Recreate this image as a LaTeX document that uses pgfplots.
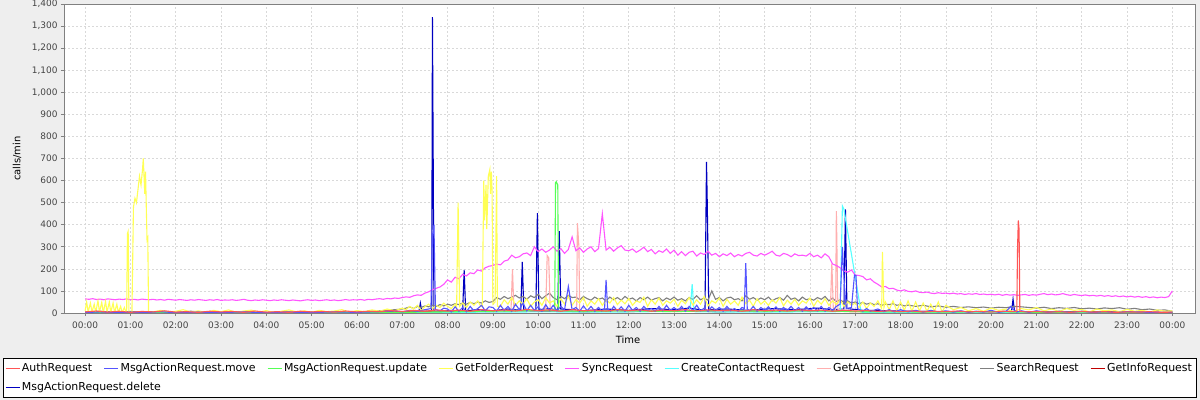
\documentclass[border=0pt]{standalone}
\usepackage{pgfplots}
\pgfplotsset{compat=1.18}
\usepackage{fontspec}
\setmainfont{DejaVu Sans}

\definecolor{bg}{HTML}{EEEEEE}
\definecolor{tickgray}{HTML}{444444}
\definecolor{cAuth}{HTML}{FF5555}
\definecolor{cMove}{HTML}{5555FF}
\definecolor{cUpdate}{HTML}{55FF55}
\definecolor{cFolder}{HTML}{FFFF55}
\definecolor{cSync}{HTML}{FF55FF}
\definecolor{cContact}{HTML}{55FFFF}
\definecolor{cAppt}{HTML}{FFAFAF}
\definecolor{cSearch}{HTML}{808080}
\definecolor{cInfo}{HTML}{C00000}
\definecolor{cDelete}{HTML}{0000C0}

\begin{document}
\begin{tikzpicture}
\useasboundingbox (0,0) rectangle (1200bp,400bp);
\fill[bg] (0,0) rectangle (1200bp,400bp);
\begin{axis}[
    at={(64bp,87bp)}, anchor=south west,
    scale only axis,
    width=1131bp, height=309bp,
    xmin=-28, xmax=1470,
    ymin=0, ymax=1400,
    axis background/.style={fill=white},
    axis line style={draw=gray, line width=0.6bp},
    xtick={0,60,...,1440},
    xticklabels={00:00,01:00,02:00,03:00,04:00,05:00,06:00,07:00,08:00,09:00,10:00,11:00,12:00,13:00,14:00,15:00,16:00,17:00,18:00,19:00,20:00,21:00,22:00,23:00,00:00},
    ytick={0,100,...,1400},
    xtick pos=bottom, ytick pos=left,
    tick align=outside, major tick length=3bp,
    tick style={draw=gray, line width=0.6bp},
    grid=major,
    major grid style={draw=black!15, dash pattern=on 2bp off 2bp, line width=0.6bp},
    /pgf/number format/assume math mode=true,
    /pgf/number format/1000 sep={,},
    ticklabel style={font=\fontsize{9}{10}\selectfont, text=tickgray},
    xticklabel style={yshift=-2bp},
    xlabel={Time}, ylabel={calls/min},
    label style={font=\fontsize{11}{13}\selectfont, text=tickgray},
    every axis x label/.style={at={(axis description cs:0.4987,-0.0874)}, anchor=center},
    every axis y label/.style={at={(axis description cs:-0.0416,0.5)}, rotate=90, anchor=center},
    legend columns=9,
    legend image code/.code={\draw[#1] (0bp,0bp) -- (14bp,0bp);},
    legend style={at={(axis description cs:0.4735,-0.1456)}, anchor=north,
        draw=black, line width=0.8bp, fill=white,
        font=\fontsize{11}{13}\selectfont,
        inner xsep=2bp, inner ysep=4bp, row sep=7bp,
        nodes={inner xsep=2bp, inner ysep=1bp},
        /tikz/every even column/.append style={column sep=9.5bp},
        legend cell align=left},
    every axis plot/.append style={line width=1.1bp},
]
% drawing order: last series first, AuthRequest on top
\addplot[cDelete, forget plot] coordinates {
(0,0)(30,2)(60,0)(90,1)(120,0)(180,2)(240,0)(300,1)(360,0)(400,3)(430,5)(442,4)(444,45)(446,5)(455,8)(459,10)(460,1340)(461,700)(462,8)(470,6)(485,12)(500,8)(502,195)(504,10)(520,15)(540,10)(560,18)(577,12)(579,231)(581,15)(590,10)(597,12)(599,452)(601,15)(615,20)(626,12)(628,371)(630,18)(645,15)(660,10)(690,18)(720,12)(750,20)(780,15)(800,22)(821,12)(823,685)(824,500)(826,15)(850,18)(880,12)(910,20)(940,15)(970,22)(990,15)(1005,18)(1007,470)(1009,20)(1030,12)(1060,10)(1090,8)(1130,6)(1170,5)(1210,6)(1227,8)(1229,63)(1231,6)(1260,4)(1320,5)(1380,3)(1440,2)
};
\addplot[cInfo, forget plot] coordinates {
(0,2)(30,5)(60,3)(90,6)(120,2)(150,4)(180,3)(210,5)(240,2)(270,4)(300,3)(330,5)(360,2)(390,4)(420,6)(450,8)(480,5)(510,9)(540,6)(570,10)(600,7)(630,9)(660,5)(690,8)(720,6)(750,10)(780,7)(810,9)(840,5)(870,8)(900,6)(930,9)(960,7)(990,10)(1020,6)(1050,8)(1080,5)(1110,7)(1140,4)(1170,6)(1200,3)(1230,5)(1260,3)(1290,6)(1320,4)(1350,5)(1380,3)(1410,4)(1440,2)
};
\addplot[cSearch, forget plot] coordinates {
(0,4)(20,8)(40,3)(60,7)(80,2)(100,6)(120,3)(140,8)(160,2)(180,5)(200,3)(220,7)(240,2)(260,6)(280,3)(300,5)(320,2)(340,6)(360,4)(380,8)(400,12)(420,18)
(425,22)(430,28)(435,20)(440,30)(445,25)(450,32)(455,28)(460,35)(465,30)(470,38)(475,32)(480,40)(485,35)(490,42)(495,38)(500,45)(505,40)(510,48)(515,42)(520,50)(525,45)(530,55)(535,48)(540,52)(545,70)(550,62)(555,75)(560,65)(565,72)(570,80)(575,68)(580,75)(585,62)(590,78)(595,70)(600,85)(605,65)(610,78)(615,90)(620,70)(625,60)(630,75)(635,65)(640,80)(645,70)(650,72)(655,60)(660,75)(665,65)(670,58)(675,72)(680,62)(685,68)(690,55)(695,72)(700,60)(705,70)(710,58)(715,75)(720,62)(725,68)(730,55)(735,70)(740,60)(745,72)(750,58)(755,65)(760,70)(765,55)(770,68)(775,60)(780,72)(785,58)(790,65)(795,55)(800,70)(805,62)(810,78)(815,60)(820,68)(825,58)(830,100)(835,62)(840,70)(845,55)(850,68)(855,72)(860,60)(865,65)(870,55)(875,78)(880,62)(885,70)(890,58)(895,68)(900,60)(905,72)(910,55)(915,65)(920,70)(925,58)(930,80)(935,62)(940,68)(945,55)(950,72)(955,60)(960,65)(965,58)(970,70)(975,62)(980,75)(985,55)(990,68)(995,52)(1000,60)(1005,48)(1010,55)(1015,45)(1020,50)(1025,42)(1030,48)(1035,40)(1040,45)(1045,38)(1050,42)(1055,35)(1060,40)(1065,38)(1070,42)(1075,35)(1080,38)(1085,32)(1090,36)
(1100,30)(1110,35)(1120,28)(1130,32)(1140,26)(1150,30)(1160,25)(1170,28)(1180,24)(1190,27)(1200,22)(1210,26)(1220,24)(1230,30)(1240,28)(1250,25)(1260,22)(1270,26)(1280,20)(1290,24)(1300,21)(1310,25)(1320,19)(1330,22)(1340,18)(1350,23)(1360,20)(1370,24)(1380,17)(1390,21)(1400,15)(1410,18)(1420,12)(1430,14)(1440,8)
};
\addplot[cAppt, forget plot] coordinates {
(0,1)(120,2)(240,1)(360,2)(480,4)(540,6)(564,5)(566,199)(568,8)(600,10)(610,15)(612,260)(614,250)(616,15)(635,10)(651,10)(652,407)(654,300)(655,10)(700,8)(800,10)(900,8)(987,10)(989,225)(991,15)(994,12)(995,462)(997,15)(1050,6)(1150,4)(1250,3)(1350,2)(1440,1)
};
\addplot[cContact, forget plot] coordinates {
(0,0)(120,1)(240,0)(360,1)(480,3)(600,5)(700,4)(800,8)(802,40)(804,131)(806,30)(808,5)(900,4)(1000,6)(1003,485)(1005,470)(1027,20)(1029,3)(1100,2)(1200,1)(1300,2)(1440,0)
};
\addplot[cSync, forget plot] coordinates {
(0,64)(5,62)(10,65)(15,61)(20,63)(25,60)(30,64)(35,62)(40,60)(45,63)(50,61)(55,64)(60,60)(65,62)(70,59)(75,63)(80,61)(85,60)(90,62)(95,59)(100,61)(105,58)(110,62)(115,60)(120,58)(125,61)(130,59)(135,57)(140,60)(145,58)(150,61)(155,59)(160,57)(165,60)(170,58)(175,61)(180,57)(185,59)(190,58)(195,60)(200,57)(205,59)(210,62)(215,58)(220,56)(225,59)(230,57)(235,60)(240,58)(245,56)(250,59)(255,57)(260,60)(265,58)(270,56)(275,59)(280,57)(285,55)(290,58)(295,60)(300,57)(305,59)(310,56)(315,58)(320,60)(325,57)(330,59)(335,56)(340,58)(345,61)(350,58)(355,60)(360,59)
(365,61)(370,58)(375,62)(380,60)(385,63)(390,65)(395,62)(400,66)(405,64)(410,68)(415,66)(420,70)
(425,73)(430,71)(435,78)(440,82)(445,80)(450,90)(455,96)(460,105)(465,112)(470,118)(475,130)(480,150)
(485,140)(490,162)(495,155)(500,175)(505,168)(510,182)(515,178)(520,195)(525,190)(530,205)(535,212)(540,215)
(545,222)(550,218)(555,235)(560,240)(565,262)(570,250)(575,255)(580,268)(585,272)(590,260)(595,300)(600,278)
(605,290)(610,275)(615,285)(620,300)(625,280)(630,292)(635,270)(640,288)(645,345)(650,282)(655,295)(660,275)
(665,290)(670,300)(675,278)(680,292)(685,450)(690,285)(695,298)(700,280)(705,295)(710,305)(715,285)(720,282)
(725,290)(730,275)(735,285)(740,298)(745,278)(750,288)(755,268)(760,282)(765,275)(770,290)(775,270)(780,285)
(785,262)(790,278)(795,260)(800,275)(805,280)(810,258)(815,272)(820,265)(825,280)(830,262)(835,270)(840,255)
(845,268)(850,260)(855,272)(860,255)(865,265)(870,258)(875,270)(880,275)(885,262)(890,258)(895,270)(900,262)
(905,270)(910,280)(915,262)(920,258)(925,270)(930,265)(935,255)(940,268)(945,260)(950,262)(955,258)(960,270)
(965,255)(970,262)(975,250)(980,268)(985,255)(990,222)(995,215)(1000,205)(1005,190)(1010,185)(1015,195)(1020,172)
(1025,170)(1030,165)(1035,150)(1040,155)(1045,140)(1050,130)(1055,118)(1060,120)(1065,110)(1070,112)(1075,104)(1080,100)
(1085,105)(1090,98)(1095,96)(1100,100)(1105,94)(1110,92)(1115,95)(1120,90)(1125,88)(1130,92)(1135,89)(1140,90)
(1145,87)(1150,90)(1155,86)(1160,88)(1165,84)(1170,87)(1175,85)(1180,88)(1185,84)(1190,86)(1195,83)(1200,85)
(1205,82)(1210,85)(1215,80)(1220,84)(1225,81)(1230,83)(1235,80)(1240,82)(1245,84)(1250,80)(1255,83)(1260,81)
(1265,85)(1270,88)(1275,83)(1280,86)(1285,82)(1290,84)(1295,88)(1300,83)(1305,80)(1310,84)(1315,81)(1320,79)
(1325,82)(1330,78)(1335,80)(1340,77)(1345,80)(1350,76)(1355,79)(1360,75)(1365,78)(1370,74)(1375,77)(1380,73)
(1385,76)(1390,72)(1395,75)(1400,71)(1405,74)(1410,70)(1415,73)(1420,69)(1425,72)(1430,70)(1435,74)(1440,100)
};
\addplot[cFolder, forget plot] coordinates {
(0,10)(2,50)(4,5)(7,45)(9,5)(12,40)(14,3)(17,55)(19,5)(22,48)(24,2)(27,52)(29,4)(32,50)(34,3)(37,45)(39,2)(42,40)(44,3)(47,30)(49,2)(52,25)(54,3)(55,5)(56,360)(57,370)(58,5)(60,0)(62,5)(64,480)(66,520)(68,500)(70,560)(72,620)(74,580)(76,650)(77,700)(78,620)(79,540)(80,640)(81,480)(82,330)(83,340)(84,5)(85,3)
(90,5)(100,12)(110,3)(120,8)(130,15)(140,4)(150,10)(160,2)(170,12)(180,6)(190,14)(200,3)(210,9)(220,13)(230,4)(240,11)(250,2)(260,8)(270,14)(280,5)(290,10)(300,3)(310,12)(320,6)(330,9)(340,15)(350,4)(360,11)(370,6)(380,14)(390,8)(400,18)(410,10)(420,22)
(425,15)(430,30)(435,18)(440,35)(445,12)(450,28)(455,40)(460,20)(465,35)(470,25)(475,45)(480,30)(485,20)(490,40)(492,20)(494,500)(496,30)(500,45)(505,25)(510,50)(515,35)(520,55)(524,30)
(526,30)(528,600)(529,420)(531,580)(532,380)(534,620)(536,650)(537,540)(538,640)(539,560)(540,40)(543,50)(545,620)(546,30)(550,30)
(555,60)(560,40)(565,70)(570,35)(575,55)(580,40)(585,65)(590,30)(595,50)(600,60)(605,35)(610,70)(615,45)(620,55)(625,30)(630,65)(635,40)(640,75)(645,35)(650,60)(655,45)(660,70)(665,30)(670,55)(675,40)(680,65)(685,35)(690,60)(695,45)(700,70)(705,38)(710,58)(715,42)(720,66)(725,35)(730,55)(735,48)(740,72)(745,30)(750,60)(755,40)(760,68)(765,35)(770,55)(775,45)(780,62)(785,30)(790,58)(795,42)(800,70)(805,35)(810,60)(815,40)(820,75)(825,32)(830,55)(835,45)(840,68)(845,30)(850,62)(855,40)(860,55)(865,35)(870,72)(875,42)(880,58)(885,30)(890,65)(895,40)(900,55)(905,35)(910,60)(915,45)(920,70)(925,32)(930,58)(935,40)(940,62)(945,35)(950,55)(955,45)(960,68)(965,30)(970,58)(975,40)(980,65)(985,35)(990,55)(995,40)(1000,60)(1005,30)(1010,50)(1015,35)(1020,45)(1025,25)(1030,50)(1035,20)(1040,45)(1045,30)(1050,55)(1055,20)(1056,277)(1058,25)(1060,50)(1065,15)(1070,55)(1075,10)(1080,50)(1085,12)(1090,55)(1095,8)(1100,50)(1105,10)(1110,45)(1115,8)(1120,40)(1125,10)(1130,50)(1135,5)(1140,35)
(1150,15)(1160,25)(1170,10)(1180,20)(1190,8)(1200,22)(1210,12)(1220,18)(1230,6)(1240,20)(1250,14)(1260,25)(1270,10)(1280,18)(1290,7)(1300,20)(1310,12)(1320,16)(1330,5)(1340,18)(1350,10)(1360,14)(1370,6)(1380,16)(1390,8)(1400,12)(1410,5)(1420,14)(1430,8)(1440,10)
};
\addplot[cUpdate, forget plot] coordinates {
(0,1)(60,3)(120,1)(180,2)(240,1)(300,2)(360,1)(420,3)(480,5)(540,8)(580,10)(600,12)(622,10)(623,590)(624,595)(626,580)(627,10)(660,8)(720,10)(780,6)(840,12)(900,8)(960,10)(1020,6)(1080,5)(1140,4)(1200,6)(1260,3)(1320,4)(1380,2)(1440,1)
};
\addplot[cMove, forget plot] coordinates {
(0,2)(20,5)(40,1)(60,4)(80,2)(100,6)(120,1)(150,4)(180,2)(210,5)(240,1)(270,4)(300,2)(330,5)(360,3)(390,6)(410,10)(420,5)(430,12)(440,8)(450,15)(458,20)(460,350)(462,400)(464,15)(470,10)(475,22)(480,18)(485,5)(490,28)(495,8)(500,25)(505,6)(510,30)(515,10)(520,20)(525,35)(530,10)(535,28)(540,25)(545,8)(550,35)(555,12)(560,30)(565,8)(570,40)(575,15)(580,45)(585,10)(590,35)(595,12)(600,28)(605,8)(610,38)(615,12)(620,35)(625,10)(630,30)(635,15)(640,120)(645,15)(650,25)(655,8)(660,32)(665,10)(670,30)(675,8)(680,25)(684,10)(688,20)(690,150)(692,20)(696,8)(700,30)(705,10)(710,28)(715,8)(720,35)(725,12)(730,25)(735,8)(740,30)(745,12)(750,20)(755,8)(760,30)(765,10)(770,35)(775,12)(780,25)(785,10)(790,30)(795,8)(800,30)(805,12)(810,35)(815,10)(820,22)(825,8)(830,28)(835,12)(840,25)(845,8)(850,30)(855,10)(860,20)(865,8)(870,25)(873,20)(875,226)(877,18)(880,10)(885,30)(890,8)(895,25)(900,12)(905,28)(910,10)(915,28)(920,8)(925,25)(930,12)(935,30)(940,10)(945,25)(950,8)(955,28)(960,12)(965,25)(970,10)(975,30)(980,8)(985,25)(990,12)(995,30)(1000,40)(1003,300)(1005,160)(1008,20)(1015,25)(1019,172)(1021,170)(1023,20)(1030,8)(1035,20)(1040,8)(1050,18)(1058,6)(1065,15)(1072,5)(1080,15)(1090,5)(1100,12)(1110,4)(1120,12)(1130,5)(1140,10)(1150,4)(1160,10)(1170,3)(1180,8)(1190,4)(1200,12)(1210,3)(1220,8)(1226,30)(1228,20)(1234,4)(1240,10)(1250,3)(1260,10)(1275,3)(1290,8)(1305,3)(1320,8)(1335,2)(1350,6)(1365,2)(1380,6)(1410,3)(1440,2)
};
\addplot[cAuth, forget plot] coordinates {
(0,5)(15,9)(30,4)(45,8)(60,3)(75,7)(90,5)(105,10)(120,4)(135,6)(150,3)(165,8)(180,5)(195,7)(210,3)(225,9)(240,4)(255,6)(270,3)(285,8)(300,5)(315,7)(330,4)(345,9)(360,5)(375,8)(390,6)(405,11)(420,7)(435,12)(450,8)(465,14)(480,9)(495,13)(510,8)(525,15)(540,10)(555,14)(570,9)(585,16)(600,11)(615,14)(630,8)(645,15)(660,10)(675,13)(690,9)(705,15)(720,11)(735,14)(750,8)(765,13)(780,10)(795,15)(810,9)(825,14)(840,11)(855,13)(870,8)(885,15)(900,10)(915,13)(930,9)(945,14)(960,11)(975,13)(990,8)(1005,12)(1020,9)(1035,11)(1050,7)(1065,10)(1080,6)(1095,9)(1110,5)(1125,8)(1140,6)(1155,9)(1170,5)(1185,7)(1200,4)(1215,8)(1230,6)(1234,8)(1235,300)(1236,420)(1237,380)(1238,8)(1245,5)(1260,7)(1275,4)(1290,6)(1305,3)(1320,7)(1335,4)(1350,6)(1365,3)(1380,5)(1395,4)(1410,6)(1425,3)(1440,4)
};
% legend in series order
\addlegendimage{cAuth, line width=0.9bp}\addlegendentry{AuthRequest}
\addlegendimage{cMove, line width=0.9bp}\addlegendentry{MsgActionRequest.move}
\addlegendimage{cUpdate, line width=0.9bp}\addlegendentry{MsgActionRequest.update}
\addlegendimage{cFolder, line width=0.9bp}\addlegendentry{GetFolderRequest}
\addlegendimage{cSync, line width=0.9bp}\addlegendentry{SyncRequest}
\addlegendimage{cContact, line width=0.9bp}\addlegendentry{CreateContactRequest}
\addlegendimage{cAppt, line width=0.9bp}\addlegendentry{GetAppointmentRequest}
\addlegendimage{cSearch, line width=0.9bp}\addlegendentry{SearchRequest}
\addlegendimage{cInfo, line width=0.9bp}\addlegendentry{GetInfoRequest}
\addlegendimage{cDelete, line width=0.9bp}\addlegendentry{\makebox[0pt][l]{MsgActionRequest.delete}}
\end{axis}
\end{tikzpicture}
\end{document}
